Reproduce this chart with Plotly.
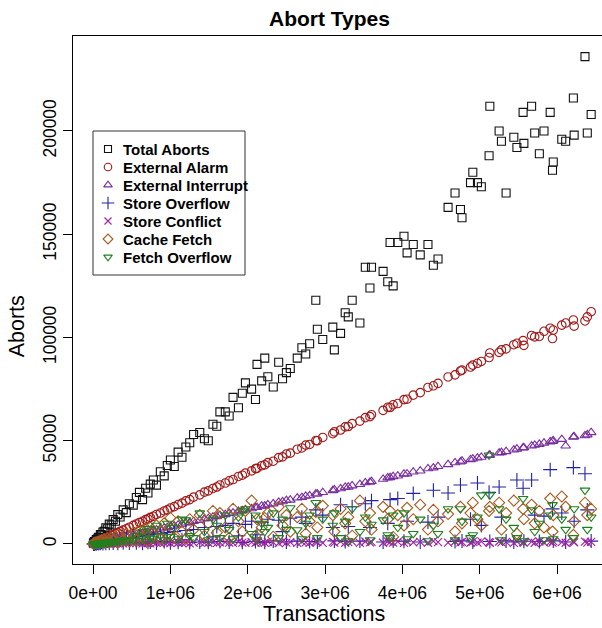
import plotly.graph_objects as go

# Transactions per run (thousands)
transactions_k = [
    5, 12, 20, 30, 42, 55, 68, 80, 95, 110, 128, 145, 165, 185, 210, 235, 260, 290, 320, 350, 390, 430, 470, 520,
    560, 600, 640, 680, 710, 740, 780, 820, 870, 920, 960, 1000, 1050, 1100, 1150, 1200, 1250, 1300, 1380, 1440,
    1490, 1550, 1600, 1640, 1710, 1760, 1810, 1880, 1930, 1970,
    2050, 2100, 2120, 2180, 2220, 2260, 2330, 2400, 2450, 2500, 2550, 2640, 2700, 2750, 2800, 2880, 2900, 2970,
    3100, 3120, 3200, 3260, 3300, 3350, 3450, 3520, 3580, 3600, 3750, 3810, 3840, 3880, 3940, 4020, 4060, 4140,
    4230, 4330, 4400, 4460, 4590, 4680, 4750, 4770, 4880,
    4910, 4970, 5020, 5120, 5130, 5250, 5280, 5340, 5440, 5480, 5560, 5570, 5670, 5710, 5770, 5830, 5910, 5940,
    5950, 6060, 6110, 6210, 6220, 6360, 6390, 6440,
]

# Abort counts (thousands)
total_aborts_k = [
    0.4, 0.8, 1.2, 1.3, 2.1, 2.4, 3.3, 3.1, 4.6, 4.4, 5.8, 6.1, 7.9, 7.4, 9.6, 9.2, 11.8, 11.0, 14.2, 13.1, 16.5, 15.2, 19.5, 18.8,
    22.5, 25.0, 21.5, 27.0, 24.7, 29.0, 31.0, 28.5, 35.0, 33.0, 38.0, 40.7, 37.5, 44.5, 42.0, 47.0, 49.0, 53.0, 54.0, 51.0,
    50.0, 58.0, 57.0, 64.0, 64.0, 62.0, 71.0, 66.0, 73.0, 78.0,
    75, 70, 87, 79, 90, 81, 76, 88, 80, 83, 85, 90, 95, 92, 97, 118, 104, 99,
    105, 94, 102, 112, 110, 118, 107, 134, 124, 134, 132, 127, 146, 125, 146, 149, 141, 145, 140, 145, 135, 138,
    163, 170, 162, 158, 175,
    180, 175, 173, 188, 212, 200, 195, 170, 197, 192, 209, 194, 212, 199, 189, 200, 209, 181, 185, 196, 195, 216,
    198, 236, 199, 208,
]
external_alarm_k = [
    0.1, 0.2, 0.35, 0.5, 0.7, 0.95, 1.2, 1.4, 1.65, 1.9, 2.2, 2.5, 2.9, 3.2, 3.6, 4.1, 4.5, 5.0, 5.5, 6.1, 6.7, 7.4, 8.1, 9.0,
    9.7, 10.4, 11.0, 11.8, 12.2, 12.9, 13.4, 14.3, 15.0, 16.0, 16.5, 17.4, 18.1, 19.1, 19.8, 20.9, 21.5, 22.7, 23.8, 25.1,
    25.7, 26.9, 27.6, 28.6, 29.5, 30.6, 31.2, 32.7, 33.3, 34.3,
    35.4, 36.5, 36.6, 37.9, 38.3, 39.4, 40.1, 41.8, 42.2, 43.6, 44.0, 45.9, 46.5, 47.9, 48.2, 50.1, 50.0, 51.6,
    53.4, 54.3, 55.2, 56.7, 56.9, 58.3, 59.5, 61.2, 61.7, 62.6, 64.7, 66.2, 66.1, 67.4, 68.0, 69.9, 70.1, 72.1,
    73.3, 75.8, 76.6, 77.8, 80.9, 81.9, 83.8, 84.2, 85.7,
    86.6, 87.5, 88.4, 90.3, 92.5, 92.8, 94.0, 94.5, 96.5, 97.2, 98.5, 96.2, 101.0, 100.3, 100.5, 103.0, 104.5, 99.5,
    103.6, 106.0, 107.0, 108.5, 105.5, 108.0, 110.0, 112.5,
]
external_interrupt_k = [
    0.05, 0.1, 0.17, 0.25, 0.35, 0.46, 0.57, 0.67, 0.8, 0.92, 1.07, 1.22, 1.39, 1.55, 1.76, 1.97, 2.18, 2.44, 2.69, 2.94, 3.28, 3.61, 3.95, 4.37,
    4.7, 5.1, 5.3, 5.8, 5.9, 6.3, 6.5, 7.0, 7.3, 7.8, 8.0, 8.5, 8.8, 9.3, 9.6, 10.2, 10.4, 11.0, 11.5, 12.2,
    12.4, 13.1, 13.3, 13.9, 14.3, 14.9, 15.1, 15.9, 16.1, 16.6,
    17.1, 17.7, 17.7, 18.4, 18.5, 19.1, 19.5, 20.3, 20.5, 21.1, 21.3, 22.3, 22.6, 23.2, 23.4, 24.3, 24.3, 25.0,
    25.9, 26.3, 26.8, 27.5, 27.6, 28.2, 28.9, 29.7, 30.0, 30.3, 31.4, 32.1, 32.2, 32.7, 33.0, 33.9, 34.0, 34.9,
    35.4, 36.5, 36.9, 37.6, 38.5, 39.4, 39.8, 40.2, 40.9,
    41.2, 41.7, 42.1, 43.0, 43.1, 44.1, 44.3, 44.8, 45.6, 46.0, 46.6, 46.7, 47.5, 47.9, 48.3, 48.9, 49.5, 49.7,
    50.0, 50.7, 47.5, 51.8, 52.0, 52.5, 52.9, 54.0,
]
store_overflow_k = [
    0.0, 0.1, 0.0, 0.3, 0.1, 0.5, 0.2, 0.6, 0.3, 0.9, 0.2, 1.2, 0.4, 1.5, 0.3, 1.8, 0.5, 2.2, 0.4, 2.5, 0.6, 3.0, 0.5, 3.2,
    0.6, 3.8, 0.4, 4.2, 0.8, 1.0, 4.8, 0.5, 5.0, 1.2, 5.5, 0.6, 6.0, 0.8, 2.0, 6.5, 0.7, 7.0, 1.0, 8.0,
    0.9, 3.5, 8.5, 1.2, 9.0, 1.0, 10.0, 4.0, 0.8, 9.5,
    11.0, 1.2, 4.5, 10.5, 0.8, 12.0, 1.5, 11.5, 6.0, 1.0, 12.5, 1.4, 13.0, 10.0, 1.2, 16.5, 1.0, 14.0,
    8.0, 1.5, 19.0, 1.2, 8.5, 18.0, 1.4, 19.5, 8.0, 21.0, 1.0, 10.0, 21.5, 1.5, 22.0, 1.3, 11.0, 24.5,
    1.0, 10.6, 26.0, 13.0, 24.7, 1.2, 28.6, 1.5, 12.0,
    1.0, 29.5, 9.0, 25.0, 1.2, 27.6, 13.0, 1.5, 1.0, 31.0, 27.0, 1.3, 31.0, 14.0, 1.2, 13.5, 36.0, 17.0,
    1.5, 15.0, 1.0, 37.0, 11.0, 34.0, 16.5, 1.4,
]
store_conflict_k = [
    0.0, 0.02, 0.05, 0.03, 0.08, 0.1, 0.06, 0.12, 0.15, 0.1, 0.18, 0.2, 0.14, 0.25, 0.22, 0.3, 0.18, 0.35, 0.28, 0.4, 0.3, 0.45, 0.38, 0.5,
    0.42, 0.55, 0.35, 0.6, 0.48, 0.3, 0.65, 0.52, 0.4, 0.7, 0.58, 0.45, 0.75, 0.6, 0.5, 0.8, 0.35, 0.7, 0.85, 0.55,
    0.6, 0.9, 0.4, 0.75, 0.95, 0.65, 0.5, 1.0, 0.7, 0.6,
    0.9, 0.5, 1.1, 0.7, 0.6, 1.0, 0.8, 0.45, 1.2, 0.7, 0.9, 0.55, 1.1, 0.8, 0.6, 1.2, 0.9, 0.5,
    1.0, 0.7, 1.3, 0.6, 0.9, 1.1, 0.5, 1.2, 0.8, 1.0, 0.6, 1.3, 0.9, 0.7, 1.1, 0.5, 1.2, 0.8,
    1.0, 0.6, 1.4, 0.9, 0.7, 1.2, 0.8, 1.0, 0.6,
    1.1, 0.7, 1.3, 0.9, 0.6, 1.2, 0.8, 1.0, 0.5, 1.3, 0.9, 0.7, 1.1, 0.6, 1.2, 0.8, 1.0, 0.7,
    1.4, 0.9, 0.6, 1.2, 0.8, 1.1, 0.7, 1.0,
]
cache_fetch_k = [
    0.1, 0.3, 0.2, 0.6, 0.4, 1.0, 0.5, 1.3, 0.8, 1.8, 0.6, 2.2, 1.0, 2.6, 0.7, 3.0, 1.5, 3.5, 0.9, 4.0, 2.0, 5.0, 1.2, 5.5,
    2.0, 6.5, 3.0, 7.5, 1.5, 8.0, 4.0, 9.0, 2.5, 10.0, 5.0, 12.6, 3.0, 11.0, 6.0, 2.5, 12.0, 7.0, 14.0, 4.0,
    10.0, 16.0, 5.5, 15.0, 8.0, 3.0, 17.0, 11.0, 6.0, 16.0,
    21.0, 4.0, 12.0, 8.0, 12.6, 15.0, 3.5, 18.0, 9.0, 14.0, 6.0, 13.0, 17.0, 5.0, 11.0, 15.5, 8.0, 18.5,
    14.0, 6.0, 17.0, 10.0, 13.0, 4.0, 21.0, 11.0, 15.0, 7.0, 18.0, 12.0, 16.0, 3.4, 14.0, 9.0, 17.5, 12.0,
    19.0, 7.0, 16.5, 11.0, 14.5, 6.0, 18.0, 10.0, 15.0,
    20.0, 12.0, 9.0, 16.0, 18.0, 20.0, 7.0, 15.0, 21.0, 5.0, 17.0, 12.0, 19.0, 10.0, 16.0, 8.0, 22.0, 6.0,
    14.0, 23.0, 18.0, 4.4, 11.0, 20.0, 14.0, 17.0,
]
fetch_overflow_k = [
    0.0, 0.05, 0.1, 0.1, 0.2, 0.2, 0.3, 0.4, 0.3, 0.5, 0.6, 0.5, 0.8, 0.7, 1.0, 0.9, 1.2, 1.0, 1.5, 1.2, 1.8, 1.5, 2.0, 1.8,
    4.0, 1.5, 6.0, 2.0, 7.5, 3.0, 2.5, 9.0, 4.0, 2.0, 10.0, 3.5, 8.0, 2.5, 12.0, 11.6, 4.0, 3.0, 15.0, 6.0,
    2.0, 12.0, 9.0, 3.0, 14.0, 7.0, 2.5, 13.0, 16.0, 17.0,
    5.0, 14.0, 2.0, 10.0, 6.0, 8.0, 15.0, 3.0, 12.0, 7.0, 17.5, 6.8, 2.5, 10.0, 14.0, 20.0, 3.0, 12.0,
    9.0, 15.0, 3.0, 11.0, 1.5, 17.0, 6.0, 13.0, 2.0, 9.5, 11.6, 4.4, 3.0, 14.0, 8.0, 15.0, 2.5, 5.0,
    12.0, 1.5, 9.0, 5.0, 17.0, 2.0, 17.0, 11.0, 3.0,
    4.4, 13.0, 23.7, 43.0, 23.7, 17.0, 2.0, 12.0, 8.0, 3.0, 22.0, 1.5, 16.5, 6.0, 10.0, 2.0, 14.0, 19.0,
    2.5, 12.0, 7.0, 3.0, 17.0, 26.0, 7.0, 13.0,
]

series_names = ["Total Aborts", "External Alarm", "External Interrupt", "Store Overflow",
                "Store Conflict", "Cache Fetch", "Fetch Overflow"]
series_values = [total_aborts_k, external_alarm_k, external_interrupt_k, store_overflow_k,
                 store_conflict_k, cache_fetch_k, fetch_overflow_k]
series_symbols = ["square-open", "circle-open", "triangle-up-open", "cross-thin-open",
                  "x-thin-open", "diamond-open", "triangle-down-open"]
series_colors = ["#111111", "#A01818", "#7A2E9E", "#2222A8", "#A020A0", "#A85A1C", "#1F801F"]
series_sizes = [8, 8.5, 8.5, 10, 8, 8.5, 8.5]

x_ticks = [0, 1e6, 2e6, 3e6, 4e6, 5e6, 6e6]
x_tick_labels = ["0e+00", "1e+06", "2e+06", "3e+06", "4e+06", "5e+06", "6e+06"]
y_ticks = [0, 50000, 100000, 150000, 200000]
y_tick_labels = ["0", "50000", "100000", "150000", "200000"]

FONT = "Liberation Sans, Arial, Helvetica, sans-serif"

x_vals = [v * 1000 for v in transactions_k]

fig = go.Figure()
for name, vals, sym, col, sz in zip(series_names, series_values, series_symbols, series_colors, series_sizes):
    fig.add_trace(go.Scatter(
        x=x_vals, y=[v * 1000 for v in vals], mode="markers", name=name, showlegend=False,
        marker=dict(symbol=sym, size=sz, color=col, line=dict(width=1.1, color=col)),
    ))

# Legend (R-style box) drawn on a pixel-scaled overlay axis
LEG_LEFT, LEG_TOP, LEG_RIGHT, LEG_BOTTOM = 93, 131, 245, 275
LEG_SYM_X, LEG_TEXT_X, LEG_ROW0, LEG_ROW_STEP = 108, 121, 149, 18
row_y = [LEG_ROW0 + i * LEG_ROW_STEP for i in range(len(series_names))]
for name, sym, col, sz, ry in zip(series_names, series_symbols, series_colors, series_sizes, row_y):
    fig.add_trace(go.Scatter(
        x=[LEG_SYM_X], y=[ry], xaxis="x2", yaxis="y2", mode="markers", showlegend=False,
        hoverinfo="skip",
        marker=dict(symbol=sym, size=sz - 1, color=col, line=dict(width=1.1, color=col)),
    ))

annotations = [
    dict(text="Abort Types", x=0.484, y=1.034, xref="paper", yref="paper",
         xanchor="center", yanchor="middle", showarrow=False,
         font=dict(family=FONT, size=21, color="black", weight="bold")),
    dict(text="Transactions", x=0.4745, y=-0.094, xref="paper", yref="paper",
         xanchor="center", yanchor="middle", showarrow=False,
         font=dict(family=FONT, size=21.5, color="black")),
    dict(text="Aborts", x=-0.106, y=0.45, xref="paper", yref="paper", textangle=-90,
         xanchor="center", yanchor="middle", showarrow=False,
         font=dict(family=FONT, size=21.5, color="black")),
]
for name, ry in zip(series_names, row_y):
    annotations.append(dict(
        text=name, x=LEG_TEXT_X, y=ry, xref="x2", yref="y2", xanchor="left", yanchor="middle",
        showarrow=False, font=dict(family=FONT, size=15, color="black", weight="bold"),
    ))

fig.update_layout(
    width=602, height=628,
    margin=dict(l=73, r=0, t=36, b=64),
    paper_bgcolor="white", plot_bgcolor="white",
    font=dict(family=FONT, color="black"),
    showlegend=False,
    xaxis=dict(
        range=[-259000, 6580000], showgrid=False, zeroline=False,
        showline=True, mirror=True, linecolor="black", linewidth=1,
        ticks="outside", ticklen=9, tickwidth=1, tickcolor="black",
        tickvals=x_ticks, ticktext=x_tick_labels, ticklabelstandoff=4,
        tickfont=dict(family=FONT, size=17.5, color="black"),
    ),
    yaxis=dict(
        range=[-9690, 246000], showgrid=False, zeroline=False,
        showline=True, mirror=False, linecolor="black", linewidth=1,
        ticks="outside", ticklen=9, tickwidth=1, tickcolor="black",
        tickvals=y_ticks, ticktext=y_tick_labels, tickangle=-90,
        tickfont=dict(family=FONT, size=17.5, color="black"),
    ),
    xaxis2=dict(range=[73, 602], overlaying="x", visible=False, fixedrange=True),
    yaxis2=dict(range=[564, 36], overlaying="y", visible=False, fixedrange=True),
    shapes=[dict(type="rect", xref="x2", yref="y2", x0=LEG_LEFT, x1=LEG_RIGHT,
                 y0=LEG_TOP, y1=LEG_BOTTOM, line=dict(color="#333333", width=1),
                 fillcolor="white", layer="below")],
    annotations=annotations,
)

fig.write_html("out.html")
